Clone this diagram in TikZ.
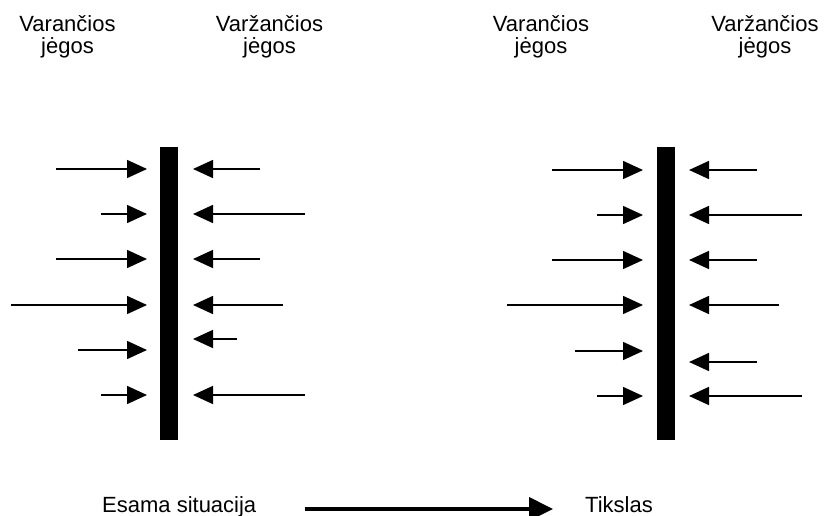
\documentclass[tikz,border=0pt]{standalone}
\usepackage{fontspec}
\setmainfont{Liberation Sans}
\usetikzlibrary{arrows.meta}
\begin{document}
\begin{tikzpicture}[x=1pt,y=-1pt,
  lbl/.style={inner sep=0pt,anchor=base,font=\fontsize{22}{25}\selectfont},
  wall/.style={fill=black,draw=none},
  force/.style={line width=1.5pt,-{Triangle[length=20pt,width=18pt]}},
  move/.style={line width=4pt,-{Triangle[length=24pt,width=23pt]}}]
\useasboundingbox (0,0) rectangle (825,516);

% column headings
\node[lbl] (hL1) at (67.5,32) {Varančios};
\node[lbl] (hL2) at (67.5,54) {jėgos};
\node[lbl] (hR1) at (269.5,32) {Varžančios};
\node[lbl] (hR2) at (269.5,54) {jėgos};
\node[lbl] (gL1) at (541,32) {Varančios};
\node[lbl] (gL2) at (541,54) {jėgos};
\node[lbl] (gR1) at (765,32) {Varžančios};
\node[lbl] (gR2) at (765,54) {jėgos};

% the two walls
\path[wall] (160,147) rectangle (177.5,440);
\path[wall] (657,147) rectangle (674.5,440);

% current situation: forces pushing on the left wall
\foreach \y/\s [count=\i] in {169/56,214/101,259/56,305/11,350/78,395/101}{
  \coordinate (al\i) at (\s,\y);
  \coordinate (bl\i) at (147,\y);
  \draw[force] (al\i) -- (bl\i);
}
\foreach \y/\s [count=\i] in {169/260,214/305,259/260,305/283,339/237,395/305}{
  \coordinate (ar\i) at (\s,\y);
  \coordinate (br\i) at (193,\y);
  \draw[force] (ar\i) -- (br\i);
}

% goal: forces pushing on the right wall
\foreach \y/\s [count=\i] in {170/552,215/597,260/552,305/507,351/575,396/597}{
  \coordinate (cl\i) at (\s,\y);
  \coordinate (dl\i) at (643,\y);
  \draw[force] (cl\i) -- (dl\i);
}
\foreach \y/\s [count=\i] in {170/757,215/802,260/757,305/779,362/757,396/802}{
  \coordinate (cr\i) at (\s,\y);
  \coordinate (dr\i) at (689,\y);
  \draw[force] (cr\i) -- (dr\i);
}

% bottom caption with transition arrow
\node[lbl,anchor=base west] (now) at (102,512) {Esama situacija};
\node[lbl,anchor=base west] (goal) at (585,512) {Tikslas};
\coordinate (m1) at (305,509);
\coordinate (m2) at (553,509);
\draw[move] (m1) -- (m2);
\end{tikzpicture}
\end{document}
